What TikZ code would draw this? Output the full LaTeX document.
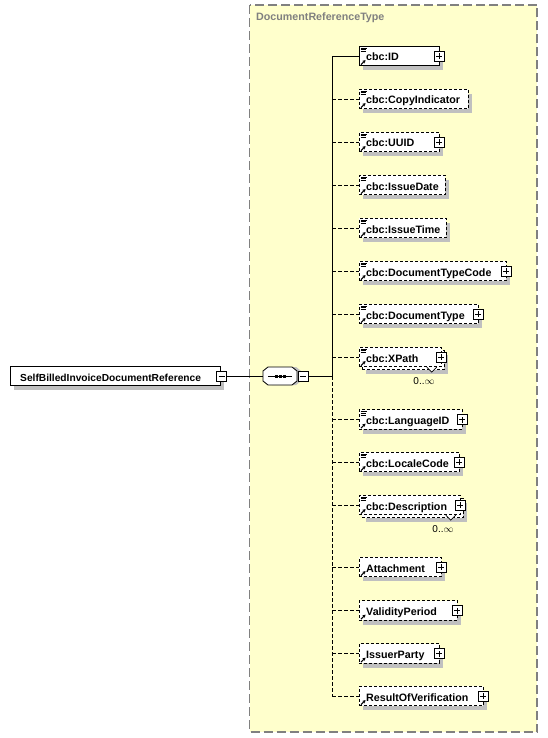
\documentclass[tikz,border=0pt]{standalone}
\usepackage{fontspec}
\setmainfont{Liberation Sans}
\usetikzlibrary{arrows.meta,shadows}
\definecolor{ybg}{RGB}{255,255,204}
\definecolor{bordergray}{RGB}{128,128,128}
\definecolor{shadowgray}{RGB}{192,192,192}
\tikzset{
  shad/.style={drop shadow={shadow xshift=4pt,shadow yshift=-4.5pt,fill=shadowgray,opacity=1}},
  elbox/.style={draw=black,fill=white,line width=0.8pt,minimum height=19.5pt,inner sep=0pt,anchor=west},
  eldashed/.style={dash pattern=on 3pt off 2pt},
  elsolid/.style={solid},
  eltext/.style={anchor=base west,inner sep=0pt,font=\bfseries\fontsize{10.7}{13}\selectfont},
  conn/.style={line width=0.8pt},
  eldashedconn/.style={conn,dash pattern=on 3.5pt off 2.5pt},
  elsolidconn/.style={conn},
  plusbox/.style={draw=black,fill=white,solid,line width=0.7pt,minimum size=10pt,inner sep=0pt,
    path picture={\draw[line width=0.7pt,solid] ([xshift=-3pt]path picture bounding box.center) -- ([xshift=3pt]path picture bounding box.center) ([yshift=-3pt]path picture bounding box.center) -- ([yshift=3pt]path picture bounding box.center);}},
  minusbox/.style={draw=black,fill=white,solid,line width=0.7pt,minimum size=10pt,inner sep=0pt,
    path picture={\draw[line width=0.7pt,solid] ([xshift=-3pt]path picture bounding box.center) -- ([xshift=3pt]path picture bounding box.center);}},
  iconline/.style={line width=0.6pt,solid},
  iconarrow/.style={line width=1pt,solid,-{Stealth[length=3pt,width=3.5pt]}},
  multtext/.style={anchor=base,inner sep=0pt,font=\fontsize{10}{12}\selectfont},
  notch/.style={draw=black,fill=white,line width=0.7pt,solid}
}
\newcommand{\xicons}[2]{%
  \ifnum#2=1
    \draw[iconline] ([xshift=1.5pt,yshift=-2pt]#1.north west) -- ++(6pt,0pt);
    \draw[iconline] ([xshift=1.5pt,yshift=-3.8pt]#1.north west) -- ++(5pt,0pt);
    \draw[iconline] ([xshift=1.5pt,yshift=-5.6pt]#1.north west) -- ++(5pt,0pt);
  \fi
  \draw[iconarrow] ([xshift=2pt,yshift=1.5pt]#1.south west) -- ++(4.5pt,4.5pt);
}
\newcommand{\xelem}[7]{%
  \node[elbox,shad,#5,minimum width=#3pt] (#1) at (359,#2) {};
  \node[eltext] (#1t) at (366,#2+5) {#4};
  \xicons{#1}{#6}
  \ifnum#7=1 \node[plusbox] (#1p) at (359+#3,#2) {};\fi
  \draw[#5conn] (#1.west -| vmid) -- (#1.west);
}
\newcommand{\xstack}[4]{%
  \node[elbox,shad,eldashed,minimum width=#3pt] (#1b) at (362,#2+3) {};
  \node[elbox,eldashed,minimum width=#3pt] (#1) at (359,#2) {};
  \draw[notch] ([xshift=-15pt]#1.south east) -- ([xshift=-10pt,yshift=-5pt]#1.south east) -- ([xshift=-5pt]#1.south east);
  \node[eltext] (#1t) at (366,#2+5) {#4};
  \xicons{#1}{1}
  \node[plusbox] (#1p) at (359+#3,#2) {};
  \node[multtext] (#1m) at (359+#3-17,#2+27) {0..$\infty$};
  \draw[eldashedconn] (#1.west -| vmid) -- (#1.west);
}
\begin{document}
\begin{tikzpicture}[x=1pt,y=-1pt]
\useasboundingbox (0,0) rectangle (548,738);
% container
\fill[ybg] (249.5,5) rectangle (537,732);
\draw[bordergray,line width=1.2pt,dash pattern=on 9pt off 4pt] (249.5,5) rectangle (537,732);
\node[anchor=base west,inner sep=0pt,text=bordergray,font=\bfseries\fontsize{10.7}{12}\selectfont] (title) at (256,21) {DocumentReferenceType};
% spine coordinates
\coordinate (vmid) at (332,376);
\coordinate (vtop) at (332,56);
\coordinate (vbot) at (332,696);
\draw[conn] (vmid) -- (vtop);
\draw[eldashedconn] (vmid) -- (vbot);
% root element
\node[elbox,shad,elsolid,minimum width=210pt,minimum height=19pt] (root) at (10,376) {};
\node[eltext,font=\bfseries\fontsize{10.2}{13}\selectfont] (roott) at (20,381) {SelfBilledInvoiceDocumentReference};
\node[minusbox] (lm) at (221.7,376) {};
% sequence compositor
\node[minimum width=34pt,minimum height=18pt,inner sep=0pt] (seq) at (280,376) {};
\fill[shadowgray] (267,371)--(272,367)--(296,367)--(301,371)--(301,381)--(296,385)--(272,385)--(267,381)--cycle;
\filldraw[fill=white,draw=black,line width=0.8pt] (263,371)--(268,367)--(292,367)--(297,371)--(297,381)--(292,385)--(268,385)--(263,381)--cycle;
\draw[line width=0.8pt] (268,376) -- (292,376);
\fill (274.5,374.5) rectangle (277.5,377.5);
\fill (278.5,374.5) rectangle (281.5,377.5);
\fill (282.5,374.5) rectangle (285.5,377.5);
\node[minusbox] (sm) at (303,376) {};
\draw[conn] (lm.east) -- (seq.west);
\draw[conn] (sm.east) -- (vmid);
% children
\xelem{id}{56}{80}{cbc:ID}{elsolid}{1}{1}
\xelem{copy}{99}{109}{cbc:CopyIndicator}{eldashed}{1}{0}
\xelem{uuid}{142}{80}{cbc:UUID}{eldashed}{1}{1}
\xelem{idate}{185}{86}{cbc:IssueDate}{eldashed}{1}{0}
\xelem{itime}{228}{87}{cbc:IssueTime}{eldashed}{1}{0}
\xelem{dtc}{271}{147}{cbc:DocumentTypeCode}{eldashed}{1}{1}
\xelem{dt}{314}{119}{cbc:DocumentType}{eldashed}{1}{1}
\xstack{xp}{357}{82}{cbc:XPath}
\xelem{lang}{419.5}{103}{cbc:LanguageID}{eldashed}{1}{1}
\xelem{loc}{462}{100}{cbc:LocaleCode}{eldashed}{1}{1}
\xstack{desc}{505}{101}{cbc:Description}
\xelem{att}{567}{82}{Attachment}{eldashed}{0}{1}
\xelem{vp}{610.5}{98}{ValidityPeriod}{eldashed}{0}{1}
\xelem{ip}{653.5}{80}{IssuerParty}{eldashed}{0}{1}
\xelem{rov}{696}{124}{ResultOfVerification}{eldashed}{0}{1}
\end{tikzpicture}
\end{document}
